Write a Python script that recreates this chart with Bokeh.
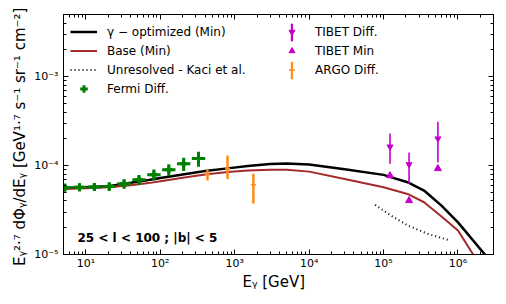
from bokeh.plotting import figure
from bokeh.models import (FixedTicker, LogAxis, CustomJSTickFormatter, Legend,
                          LegendItem, Label)
from bokeh.embed import file_html
from bokeh.resources import INLINE

# ---------------- data ----------------
E_opt = [5, 10, 20, 40, 70, 100, 200, 400, 800, 1500, 3000, 5000, 1e4, 3e4,
         1e5, 2.1e5, 3.5e5, 6e5, 1e6, 2.3e6, 3.2e6]
flux_opt = [5.55e-5, 5.7e-5, 5.85e-5, 6.4e-5, 6.9e-5, 7.25e-5, 7.95e-5, 8.7e-5,
            9.3e-5, 9.9e-5, 1.04e-4, 1.055e-4, 1.03e-4, 9.1e-5,
            7.86e-5, 6.5e-5, 5.24e-5, 3.55e-5, 2.3e-5, 1.0e-5, 7.2e-6]

E_base = [5, 10, 20, 40, 70, 100, 200, 400, 800, 1500, 3000, 5000, 1e4, 3e4,
          1e5, 2.1e5, 3.5e5, 6e5, 1e6, 1.6e6, 2.2e6]
flux_base = [5.45e-5, 5.55e-5, 5.7e-5, 6.0e-5, 6.35e-5, 6.65e-5, 7.3e-5, 7.95e-5,
             8.45e-5, 8.8e-5, 9.0e-5, 9.0e-5, 8.55e-5, 7.05e-5,
             5.7e-5, 4.8e-5, 3.87e-5, 2.67e-5, 1.86e-5, 1.0e-5, 6.5e-6]

E_kaci = [7.7e4, 1.26e5, 2.11e5, 3.93e5, 7.3e5]
flux_kaci = [3.61e-5, 2.74e-5, 2.12e-5, 1.71e-5, 1.46e-5]

E_fermi = [5.2, 8.2, 13, 20.6, 32.6, 51.7, 82, 130, 206, 326]
flux_fermi = [5.66e-5, 5.7e-5, 5.75e-5, 5.8e-5, 6.25e-5, 6.95e-5, 7.9e-5,
              9.0e-5, 1.05e-4, 1.2e-4]
fermi_rel_err = [0.10, 0.10, 0.10, 0.11, 0.12, 0.13, 0.14, 0.15, 0.17, 0.19]
fermi_bin_halfwidth_dex = 0.09

E_argo = [430, 800, 1780]
flux_argo = [7.9e-5, 9.3e-5, 6.1e-5]
argo_lo = [6.8e-5, 7.0e-5, 3.75e-5]
argo_hi = [9.0e-5, 1.3e-4, 8.1e-5]

E_tibet = [1.22e5, 2.2e5, 5.37e5]
flux_tibet_diff = [1.63e-4, 1.03e-4, 2.01e-4]
tibet_lo = [1.05e-4, 6.28e-5, 1.08e-4]
tibet_hi = [2.29e-4, 1.40e-4, 3.12e-4]
flux_tibet_min = [7.7e-5, 4.04e-5, 9.25e-5]

x_major = [1e1, 1e2, 1e3, 1e4, 1e5, 1e6]
x_minor = [k * 10.0 ** d for d in range(0, 7) for k in range(2, 10)]
y_major = [1e-5, 1e-4, 1e-3]
y_minor = [k * 10.0 ** d for d in range(-5, -2) for k in range(2, 10)]

# ---------------- styles ----------------
FONT = "DejaVu Sans"
BLACK = "#000000"
BROWN = "#a52a2a"
GREEN = "#008000"
ORANGE = "#ff8c1a"
MAGENTA = "#c800c8"

p = figure(x_axis_type="log", y_axis_type="log", x_range=(5, 3e6),
           y_range=(1e-5, 5e-3), width=498, height=300,
           output_backend="svg", toolbar_location=None,
           min_border_left=63, min_border_right=5, min_border_top=14,
           min_border_bottom=46)
p.xgrid.visible = False
p.ygrid.visible = False
p.outline_line_color = BLACK
p.background_fill_color = "white"
p.border_fill_color = "white"

sup_code = """
const sup = {"-":"\u207b","0":"\u2070","1":"\u00b9","2":"\u00b2","3":"\u00b3",
             "4":"\u2074","5":"\u2075","6":"\u2076","7":"\u2077","8":"\u2078","9":"\u2079"};
const e = Math.round(Math.log10(tick));
return "10" + String(e).split("").map(c => sup[c]).join("");
"""
blank_code = "return '';"


def style_axis(ax, major, minor, labels=True):
    ax.ticker = FixedTicker(ticks=major, minor_ticks=minor)
    ax.major_tick_in = 5
    ax.major_tick_out = 0
    ax.minor_tick_in = 3
    ax.minor_tick_out = 0
    ax.axis_line_color = BLACK
    ax.major_tick_line_color = BLACK
    ax.minor_tick_line_color = BLACK
    if labels:
        ax.formatter = CustomJSTickFormatter(code=sup_code)
        ax.major_label_text_font = FONT
        ax.major_label_text_font_size = "11px"
        ax.major_label_text_color = BLACK
        ax.axis_label_text_font = FONT
        ax.axis_label_text_font_style = "normal"
        ax.axis_label_text_color = BLACK
    else:
        ax.formatter = CustomJSTickFormatter(code=blank_code)
        ax.major_label_standoff = 0
        ax.major_label_text_font_size = "1px"


style_axis(p.xaxis[0], x_major, x_minor)
style_axis(p.yaxis[0], y_major, y_minor)
p.xaxis[0].axis_label = "E\u1d67   [GeV]"
p.xaxis[0].axis_label_text_font_size = "15px"
p.xaxis[0].major_label_standoff = 2
p.xaxis[0].axis_label_standoff = 0
p.yaxis[0].axis_label = "E\u1d67\u00b2\u00b7\u2077 d\u03a6\u1d67/dE\u1d67  [GeV\u00b9\u00b7\u2077 s\u207b\u00b9 sr\u207b\u00b9 cm\u207b\u00b2]"
p.yaxis[0].axis_label_text_font_size = "15px"
p.yaxis[0].major_label_standoff = 5
p.yaxis[0].axis_label_standoff = 2

top_axis = LogAxis()
style_axis(top_axis, x_major, x_minor, labels=False)
p.add_layout(top_axis, "above")
right_axis = LogAxis()
style_axis(right_axis, y_major, y_minor, labels=False)
p.add_layout(right_axis, "right")

# ---------------- model curves ----------------
r_opt = p.line(E_opt, flux_opt, line_color=BLACK, line_width=2.5)
r_base = p.line(E_base, flux_base, line_color=BROWN, line_width=2)
r_kaci = p.line(E_kaci, flux_kaci, line_color=BLACK, line_width=2,
                line_dash="1 3")

# ---------------- Fermi crosses ----------------
f = 10 ** fermi_bin_halfwidth_dex
p.segment(x0=[e / f for e in E_fermi], y0=flux_fermi,
          x1=[e * f for e in E_fermi], y1=flux_fermi,
          line_color=GREEN, line_width=3)
p.segment(x0=E_fermi, y0=[v * (1 - r) for v, r in zip(flux_fermi, fermi_rel_err)],
          x1=E_fermi, y1=[v * (1 + r) for v, r in zip(flux_fermi, fermi_rel_err)],
          line_color=GREEN, line_width=3)
r_fermi = p.scatter(E_fermi, flux_fermi, marker="cross", size=8,
                    line_color=GREEN, line_width=3)


# ---------------- error bars as thin vbars (about px wide) ----------------
def bar_width(xs, px):
    # data-space width that maps to about `px` pixels on the log x axis
    k = px / 74.4 * 2.302585
    return [x * k for x in xs]


bar_argo = p.vbar(x=E_argo, bottom=argo_lo, top=argo_hi,
                  width=bar_width(E_argo, 2.5), fill_color=ORANGE, line_color=None)
r_argo = p.scatter(E_argo, flux_argo, marker="dash", size=5,
                   line_color=ORANGE, line_width=1.5)

bar_tibet = p.vbar(x=E_tibet, bottom=tibet_lo, top=tibet_hi,
                   width=bar_width(E_tibet, 1.6), fill_color=MAGENTA, line_color=None)
r_tdiff = p.scatter(E_tibet, flux_tibet_diff, marker="inverted_triangle", size=6,
                    fill_color=MAGENTA, line_color=MAGENTA)
r_tmin = p.scatter(E_tibet, flux_tibet_min, marker="triangle", size=7,
                   fill_color=MAGENTA, line_color=MAGENTA)


def make_legend(items, loc, gw, gh, sp, standoff):
    lg = Legend(items=items, location=loc, glyph_width=gw, glyph_height=gh,
                spacing=sp, padding=3, margin=0, label_standoff=standoff,
                label_height=14,
                border_line_color=None, background_fill_alpha=0,
                label_text_font=FONT, label_text_font_size="12px",
                label_text_color=BLACK)
    p.add_layout(lg)
    return lg


make_legend([LegendItem(label="\u03b3 \u2212 optimized (Min)", renderers=[r_opt]),
             LegendItem(label="Base (Min)", renderers=[r_base]),
             LegendItem(label="Unresolved - Kaci et al.", renderers=[r_kaci]),
             LegendItem(label="Fermi Diff.", renderers=[r_fermi])],
            (7, 156), 27, 19, 0, 10)
make_legend([LegendItem(label=" ", renderers=[bar_tibet]),
             LegendItem(label=" ", renderers=[bar_argo])],
            (227, 173), 3, 22, 16, 5)
make_legend([LegendItem(label="TIBET Diff.", renderers=[r_tdiff]),
             LegendItem(label="TIBET Min", renderers=[r_tmin]),
             LegendItem(label="ARGO Diff.", renderers=[r_argo])],
            (221, 175), 15, 19, 0, 16)

p.add_layout(Label(x=14, y=17, x_units="screen", y_units="screen",
                   text="25 <  l  < 100 ; |b| < 5", text_font=FONT,
                   text_font_style="bold", text_font_size="12px",
                   text_baseline="alphabetic", text_color=BLACK))

open("out.html", "w").write(file_html(p, INLINE))
